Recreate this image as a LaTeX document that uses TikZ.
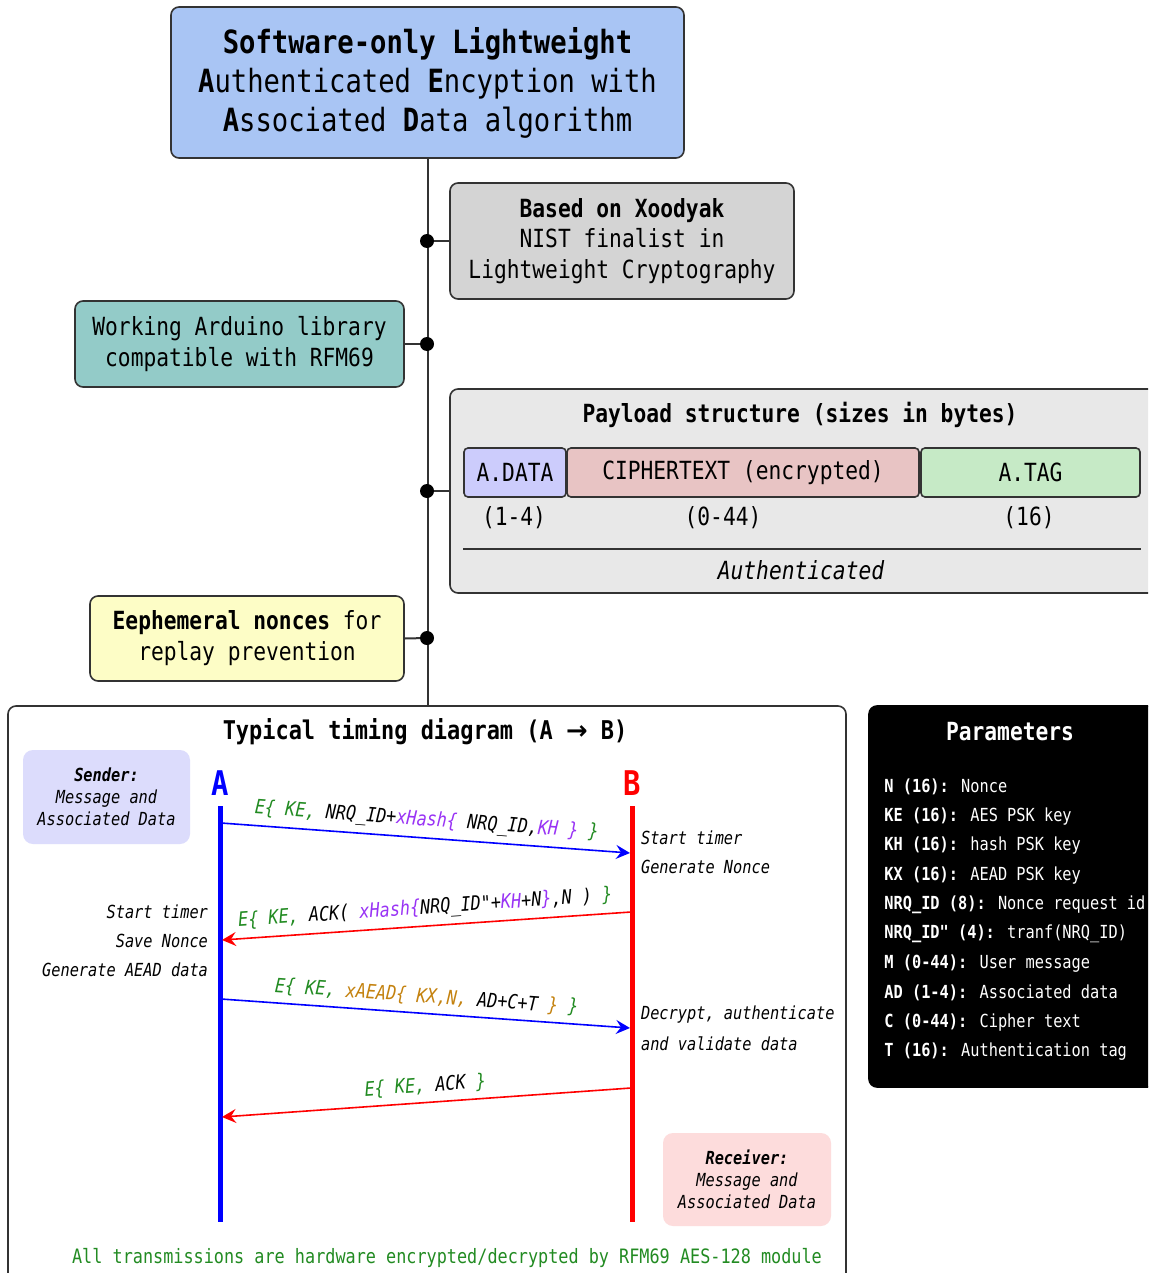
\documentclass[tikz,border=0pt]{standalone}
\usepackage{fontspec}
\setmainfont{DejaVu Sans Mono}[FakeStretch=0.85, Ligatures=TeXOff,
  BoldFont={DejaVu Sans Mono Bold},
  ItalicFont={DejaVu Sans Mono Oblique},
  BoldItalicFont={DejaVu Sans Mono Bold Oblique}]
\newfontfamily\arrfont{DejaVu Sans}[BoldFont={DejaVu Sans Bold}]
\usetikzlibrary{arrows.meta}
\definecolor{bordercol}{HTML}{333333}
\definecolor{titlecol}{HTML}{A9C5F4}
\definecolor{graycol}{HTML}{D4D4D4}
\definecolor{tealcol}{HTML}{93CBC8}
\definecolor{paycol}{HTML}{E8E8E8}
\definecolor{yelcol}{HTML}{FDFDC6}
\definecolor{adcol}{HTML}{CCCCFC}
\definecolor{ctcol}{HTML}{E8C4C4}
\definecolor{tagcol}{HTML}{C6EAC6}
\definecolor{sendcol}{HTML}{DCDCFC}
\definecolor{recvcol}{HTML}{FDDCDC}
\definecolor{grn}{HTML}{228B22}
\definecolor{prp}{HTML}{9933F5}
\definecolor{org}{HTML}{C4820F}
\newcommand{\dq}{\symbol{34}}
\begin{document}
\begin{tikzpicture}[x=0.5pt,y=-0.5pt,
  box/.style={draw=bordercol, line width=0.8pt, rounded corners=4pt, inner sep=0pt, align=center},
  softbox/.style={rounded corners=5pt, inner sep=0pt, align=center},
  bigtxt/.style={font=\fontsize{12.5}{15.5}\selectfont},
  sidetxt/.style={font=\fontsize{9}{11}\selectfont\itshape},
  lbl/.style={font=\fontsize{9.9}{12}\selectfont\itshape},
  ptext/.style={font=\fontsize{9}{11}\selectfont, text=white, inner sep=0pt},
  msg/.style={line width=0.8pt, -{Stealth[length=7pt,width=7pt,inset=2.5pt]}},
  dot/.style={circle, fill=black, inner sep=0pt, minimum size=7pt},
  trunk/.style={draw=bordercol, line width=1pt}]
\clip (0,0) rectangle (1148,1273);
\fill[white] (0,0) rectangle (1148,1273);

% junction points on the trunk
\coordinate (j1) at (427,241);
\coordinate (j2) at (427,344);
\coordinate (j3) at (427,491);
\coordinate (j4) at (427,638);

% boxes
\node[box, fill=titlecol, minimum width=256.5pt, minimum height=75.5pt,
  font=\fontsize{16}{19.5}\selectfont] (title) at (427.5,82.5)
  {\textbf{Software-only Lightweight}\\\textbf{A}uthenticated \textbf{E}ncyption with\\\textbf{A}ssociated \textbf{D}ata algorithm};

\node[box, fill=graycol, minimum width=172pt, minimum height=58pt,
  font=\fontsize{12.5}{15.25}\selectfont] (xoo) at (622,241)
  {\textbf{Based on Xoodyak}\\NIST finalist in\\Lightweight Cryptography};

\node[box, fill=tealcol, minimum width=164.5pt, minimum height=43pt, bigtxt] (ard) at (239.5,344)
  {Working Arduino library\\compatible with RFM69};

\node[box, fill=paycol, minimum width=355pt, minimum height=102pt] (pay) at (805,491) {};

\node[box, fill=yelcol, minimum width=157pt, minimum height=42.5pt, bigtxt] (eph) at (247,638.5)
  {\textbf{Eephemeral nonces} for\\replay prevention};

\node[box, fill=white, minimum width=419pt, minimum height=292pt] (timing) at (427,998) {};

\node[box, fill=black, draw=black, minimum width=145.5pt, minimum height=190.5pt] (params) at (1014.5,896.5) {};

% trunk and branches
\draw[trunk] (title.south) -- (title.south |- timing.north);
\draw[trunk] (j1) -- (xoo.west);
\draw[trunk] (j2) -- (ard.east);
\draw[trunk] (j3) -- (pay.west);
\draw[trunk] (j4) -- (eph.east);
\foreach \j in {j1,j2,j3,j4} \node[dot] at (\j) {};

% payload contents
\node[bigtxt] (ptitle) at (800,415) {\textbf{Payload structure (sizes in bytes)}};
\node[box, rounded corners=2pt, fill=adcol, minimum width=51pt, minimum height=24.5pt, bigtxt] (adata) at (515,472.5) {A.DATA};
\node[box, rounded corners=2pt, fill=ctcol, minimum width=176pt, minimum height=24.5pt, bigtxt] (ctext) at (743,472.5) {CIPHERTEXT (encrypted)};
\node[box, rounded corners=2pt, fill=tagcol, minimum width=109.5pt, minimum height=24.5pt, bigtxt] (atag) at (1030.5,472.5) {A.TAG};
\node[bigtxt] (s1) at (514,518) {(1-4)};
\node[bigtxt] (s2) at (723,518) {(0-44)};
\node[bigtxt] (s3) at (1029,518) {(16)};
\draw[line width=0.8pt, bordercol] (463,549) -- (1141,549);
\node[font=\fontsize{12.5}{15.5}\selectfont\itshape] (auth) at (801,570) {Authenticated};

% timing diagram
\node[font=\fontsize{12.9}{15.5}\selectfont\bfseries] (ttitle) at (425,732) {Typical timing diagram (A {\arrfont\bfseries →} B)};
\node[softbox, fill=sendcol, minimum width=83.5pt, minimum height=47pt,
  font=\fontsize{9}{11}\selectfont\itshape] (sender) at (106.5,797)
  {\textbf{Sender:}\\Message and\\Associated Data};
\node[softbox, fill=recvcol, minimum width=84pt, minimum height=46.5pt,
  font=\fontsize{9}{11}\selectfont\itshape] (receiver) at (747,1179.5)
  {\textbf{Receiver:}\\Message and\\Associated Data};

\node[font=\fontsize{17}{20}\selectfont\bfseries, text=blue] (Alab) at (220,783) {A};
\node[font=\fontsize{17}{20}\selectfont\bfseries, text=red] (Blab) at (632,783) {B};
\coordinate (Atop) at (220,806); \coordinate (Abot) at (220,1222);
\coordinate (Btop) at (632,806); \coordinate (Bbot) at (632,1222);
\draw[blue, line width=2.5pt] (Atop) -- (Abot);
\draw[red, line width=2.5pt] (Btop) -- (Bbot);

\coordinate (m1s) at (221,823);  \coordinate (m1e) at (630,853);
\coordinate (m2s) at (631,912);  \coordinate (m2e) at (222,940);
\coordinate (m3s) at (221,999);  \coordinate (m3e) at (630,1028);
\coordinate (m4s) at (631,1088); \coordinate (m4e) at (222,1117);

\draw[msg, blue] (m1s) -- node[lbl, sloped, above, pos=0.5]
  {\textcolor{grn}{E\{ KE,} \textcolor{black}{NRQ\_ID+}\textcolor{prp}{xHash\{} \textcolor{black}{NRQ\_ID,}\textcolor{prp}{KH \}} \textcolor{grn}{\}}} (m1e);
\draw[msg, red] (m2s) -- node[lbl, sloped, above, pos=0.5]
  {\textcolor{grn}{E\{ KE,} \textcolor{black}{ACK(} \textcolor{prp}{xHash\{}\textcolor{black}{NRQ\_ID\dq+}\textcolor{prp}{KH}\textcolor{black}{+N}\textcolor{prp}{\}}\textcolor{black}{,N )} \textcolor{grn}{\}}} (m2e);
\draw[msg, blue] (m3s) -- node[lbl, sloped, above, pos=0.5]
  {\textcolor{grn}{E\{ KE,} \textcolor{org}{xAEAD\{ KX,N,} \textcolor{black}{AD+C+T} \textcolor{org}{\}} \textcolor{grn}{\}}} (m3e);
\draw[msg, red] (m4s) -- node[lbl, sloped, above, pos=0.5]
  {\textcolor{grn}{E\{ KE,} \textcolor{black}{ACK} \textcolor{grn}{\}}} (m4e);

\node[sidetxt, anchor=east] (la1) at (215,912) {Start timer};
\node[sidetxt, anchor=east] (la2) at (215,941) {Save Nonce};
\node[sidetxt, anchor=east] (la3) at (215,970) {Generate AEAD data};
\node[sidetxt, anchor=west] (rb1) at (634,838) {Start timer};
\node[sidetxt, anchor=west] (rb2) at (634,867) {Generate Nonce};
\node[sidetxt, anchor=west] (rb3) at (634,1015) {Decrypt, authenticate};
\node[sidetxt, anchor=west] (rb4) at (634,1044) {and validate data};

\node[font=\fontsize{9.9}{12}\selectfont, text=grn] (note) at (447,1258)
  {All transmissions are hardware encrypted/decrypted by RFM69 AES-128 module};

% parameters
\node[font=\fontsize{12.5}{15}\selectfont\bfseries, text=white] (ptit) at (1010,732) {Parameters};
\foreach \k/\v [count=\i from 0] in {
  {N (16):}/{Nonce},
  {KE (16):}/{AES PSK key},
  {KH (16):}/{hash PSK key},
  {KX (16):}/{AEAD PSK key},
  {NRQ\_ID (8):}/{Nonce request id},
  {NRQ\_ID\dq{} (4):}/{tranf(NRQ\_ID)},
  {M (0-44):}/{User message},
  {AD (1-4):}/{Associated data},
  {C (0-44):}/{Cipher text},
  {T (16):}/{Authentication tag}}
  \node[ptext, anchor=west] (p\i) at (884,787+29.44*\i) {\textbf{\k} \v};
\end{tikzpicture}
\end{document}
